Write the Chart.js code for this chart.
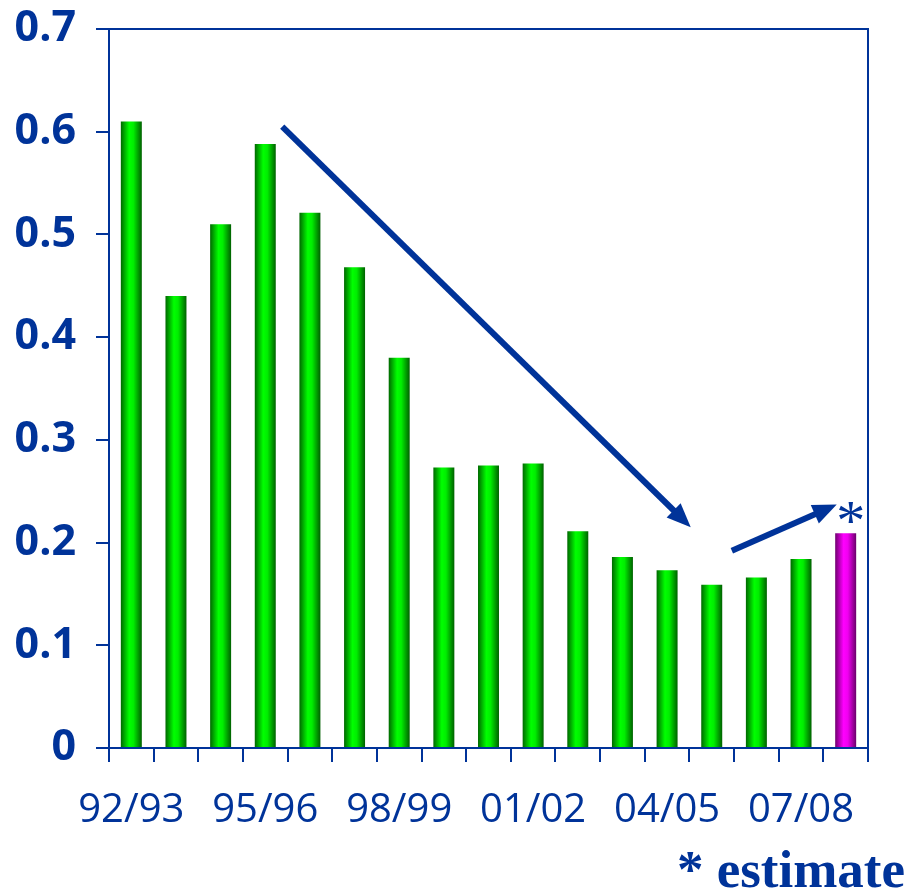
<!DOCTYPE html>
<html>
<head>
<meta charset="utf-8">
<script src="https://cdn.jsdelivr.net/npm/chart.js@4/dist/chart.umd.min.js"></script>
<style>
  body { margin: 0; background: #fff; }
  canvas { display: block; }
</style>
</head>
<body>
<canvas id="chart" width="908" height="891"></canvas>
<script>
const categories = ['92/93', '93/94', '94/95', '95/96', '96/97', '97/98', '98/99', '99/00', '00/01',
    '01/02', '02/03', '03/04', '04/05', '05/06', '06/07', '07/08', '08/09'];
const values = [0.61, 0.44, 0.51, 0.588, 0.521, 0.468, 0.38, 0.273, 0.275,
    0.277, 0.211, 0.186, 0.173, 0.159, 0.166, 0.184, 0.209];
const estimated = [false, false, false, false, false, false, false, false, false,
    false, false, false, false, false, false, false, true];
const yTicks = [0, 0.1, 0.2, 0.3, 0.4, 0.5, 0.6, 0.7];
// trend arrows in data coordinates: [category index, value]
const trendArrows = [
    { from: [3.38, 0.605], to: [12.53, 0.215] },
    { from: [13.45, 0.192], to: [15.8, 0.237] }
];

const blue = '#003399';
const barPct = 0.47;

function barFill(ctx) {
    const chart = ctx.chart;
    const x = chart.scales.x;
    const idx = ctx.dataIndex;
    const est = idx !== undefined && estimated[idx];
    if (!x || idx === undefined || !chart.chartArea) return est ? '#ff00ff' : '#00ff00';
    const cx = x.getPixelForValue(idx);
    const w = x.width / categories.length * barPct;
    const g = chart.ctx.createLinearGradient(cx - w / 2, 0, cx + w / 2, 0);
    if (est) {
        g.addColorStop(0, '#700070');
        g.addColorStop(0.4, '#ff00ff');
        g.addColorStop(0.6, '#f000f0');
        g.addColorStop(1, '#6a006a');
    } else {
        g.addColorStop(0, '#006800');
        g.addColorStop(0.4, '#00ff00');
        g.addColorStop(0.6, '#00ee00');
        g.addColorStop(1, '#006000');
    }
    return g;
}

const decor = {
    id: 'decor',
    afterDatasetsDraw(chart) {
        const c = chart.ctx;
        const { top, right, left, bottom } = chart.chartArea;
        const x = chart.scales.x, y = chart.scales.y;
        c.save();
        // frame: top and right lines
        c.strokeStyle = blue;
        c.lineWidth = 2;
        c.beginPath();
        c.moveTo(left, top);
        c.lineTo(right, top);
        c.lineTo(right, bottom);
        c.stroke();

        // arrows
        c.fillStyle = blue;
        c.lineWidth = 6;
        trendArrows.forEach(a => {
            const x1 = x.getPixelForValue(a.from[0]), y1 = y.getPixelForValue(a.from[1]);
            const x2 = x.getPixelForValue(a.to[0]), y2 = y.getPixelForValue(a.to[1]);
            const ang = Math.atan2(y2 - y1, x2 - x1);
            const head = 24, half = 10;
            const bx = x2 - head * Math.cos(ang), by = y2 - head * Math.sin(ang);
            c.beginPath();
            c.moveTo(x1, y1);
            c.lineTo(bx + 2 * Math.cos(ang), by + 2 * Math.sin(ang));
            c.stroke();
            c.beginPath();
            c.moveTo(x2, y2);
            c.lineTo(bx + half * Math.sin(ang), by - half * Math.cos(ang));
            c.lineTo(bx - half * Math.sin(ang), by + half * Math.cos(ang));
            c.closePath();
            c.fill();
        });

        // asterisk over the estimated bar
        c.font = '58px "Liberation Serif"';
        c.textAlign = 'center';
        c.textBaseline = 'alphabetic';
        estimated.forEach((e, i) => {
            if (!e) return;
            const m = c.measureText('*');
            const cy = y.getPixelForValue(values[i]) - 21;
            const b = cy - (m.actualBoundingBoxDescent - m.actualBoundingBoxAscent) / 2;
            c.fillText('*', x.getPixelForValue(i) + 5, b);
        });

        // footnote
        c.font = 'bold 53px "Liberation Serif"';
        c.textAlign = 'right';
        c.fillText('* estimate', chart.width - 3, chart.height - 4);
        c.restore();
    }
};

new Chart(document.getElementById('chart'), {
    type: 'bar',
    data: {
        labels: categories,
        datasets: [{
            data: values,
            backgroundColor: barFill,
            borderWidth: 0,
            barPercentage: barPct,
            categoryPercentage: 1
        }]
    },
    options: {
        responsive: false,
        animation: false,
        layout: { padding: { top: 29, right: 40, left: 13, bottom: 55 } },
        plugins: {
            legend: { display: false },
            tooltip: { enabled: false }
        },
        scales: {
            x: {
                afterFit: s => { s.height = 88; s.paddingLeft = 0; s.paddingRight = 0; },
                grid: {
                    drawOnChartArea: false,
                    offset: true,
                    tickLength: 14,
                    color: blue,
                    lineWidth: 2
                },
                border: { color: blue, width: 2 },
                ticks: {
                    autoSkip: false,
                    maxRotation: 0,
                    color: blue,
                    padding: 25,
                    font: { family: '"Open Sans"', size: 40 },
                    callback: (v, i) => i % 3 === 0 ? categories[i] : ''
                }
            },
            y: {
                min: 0,
                max: 0.7,
                afterBuildTicks: axis => { axis.ticks = yTicks.map(v => ({ value: v })); },
                afterFit: s => { s.width = 96; s.paddingTop = 0; s.paddingBottom = 0; },
                grid: {
                    drawOnChartArea: false,
                    tickLength: 13,
                    color: blue,
                    lineWidth: 2
                },
                border: { color: blue, width: 2 },
                ticks: {
                    color: blue,
                    padding: 20,
                    font: { family: '"Open Sans"', size: 43, weight: 'bold' },
                    callback: v => String(v)
                }
            }
        }
    },
    plugins: [decor]
});
</script>
</body>
</html>
